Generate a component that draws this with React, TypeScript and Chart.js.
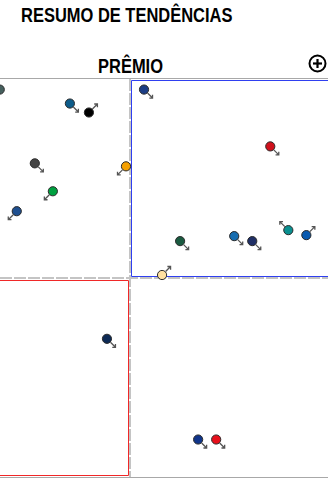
import React, { useEffect, useRef } from "react";
import { Chart, registerables } from "chart.js";

Chart.register(...registerables);

// ---- data ----
const titleText = "RESUMO DE TENDÊNCIAS";
const axisTitle = "PRÊMIO";
const xValues = [-65, -30, -20.5, -47.5, -2, -38.5, -56.5, 7, 70, 25, 52, 61, 79, 88, 16, -11.5, 34, 43];
const yValues = [94.5, 87.5, 83, 57.5, 56, 43.5, 33.5, 94.5, 66, 18.5, 21, 18.5, 24, 21.5, 1.5, -30.5, -81, -81];
const trends = ["dl", "dr", "ur", "dr", "dl", "dl", "dl", "dr", "dr", "dr", "dr", "dr", "ul", "ur", "ur", "dr", "dr", "dr"];
const pointColors = [
  "#46605e", "#0d5c8a", "#000000", "#444444", "#f5a000", "#00a040",
  "#1f4f8f", "#1b3d85", "#d0101c", "#1a5a40", "#176db0", "#1f2f66",
  "#0a9090", "#0a5bb0", "#ffe0a0", "#0d2a55", "#10358a", "#e8101c",
];

const quadrantPlugin = {
  id: "quadrants",
  beforeDatasetsDraw(chart: any) {
    const { ctx, chartArea, scales } = chart;
    const { left, right, top, bottom } = chartArea;
    const cx = Math.round(scales.x.getPixelForValue(0));
    const cy = Math.round(scales.y.getPixelForValue(0));
    const L = Math.round(left), R = Math.round(right), T = Math.round(top), B = Math.round(bottom);
    ctx.save();
    // outer gray frame (top and bottom edges)
    ctx.strokeStyle = "#a8a8a8";
    ctx.lineWidth = 1;
    ctx.beginPath();
    ctx.moveTo(L, T - 0.5);
    ctx.lineTo(R + 10, T - 0.5);
    ctx.moveTo(L, B + 0.5);
    ctx.lineTo(R + 10, B + 0.5);
    ctx.stroke();
    // dashed center lines
    ctx.strokeStyle = "#c4c4c4";
    ctx.lineWidth = 2;
    ctx.setLineDash([12, 2]);
    ctx.beginPath();
    ctx.moveTo(cx, T);
    ctx.lineTo(cx, B);
    ctx.moveTo(L, cy);
    ctx.lineTo(R + 10, cy);
    ctx.stroke();
    ctx.setLineDash([]);
    // blue quadrant box (top-right), open to the right
    ctx.lineWidth = 1;
    ctx.strokeStyle = "#2f3ff0";
    ctx.beginPath();
    ctx.moveTo(R + 10, T + 1.5);
    ctx.lineTo(cx + 1.5, T + 1.5);
    ctx.lineTo(cx + 1.5, cy - 1.5);
    ctx.lineTo(R + 10, cy - 1.5);
    ctx.stroke();
    // red quadrant box (bottom-left), open to the left
    ctx.strokeStyle = "#f02828";
    ctx.beginPath();
    ctx.moveTo(L - 10, cy + 2.5);
    ctx.lineTo(cx - 1.5, cy + 2.5);
    ctx.lineTo(cx - 1.5, B - 1.5);
    ctx.lineTo(L - 10, B - 1.5);
    ctx.stroke();
    // trend arrows
    const meta = chart.getDatasetMeta(0);
    ctx.strokeStyle = "#555555";
    ctx.lineWidth = 1.3;
    meta.data.forEach((el: any, i: number) => {
      const t = trends[i];
      const sx = t[1] === "r" ? 1 : -1;
      const sy = t[0] === "d" ? 1 : -1;
      const x0 = el.x + sx * 3.5;
      const y0 = el.y + sy * 3.5;
      const x1 = el.x + sx * 8.5;
      const y1 = el.y + sy * 8.5;
      ctx.beginPath();
      ctx.moveTo(x0, y0);
      ctx.lineTo(x1, y1);
      ctx.moveTo(x1 - sx * 3.2, y1);
      ctx.lineTo(x1, y1);
      ctx.lineTo(x1, y1 - sy * 3.2);
      ctx.stroke();
    });
    ctx.restore();
  },
};

export default function App() {
  const ref = useRef<HTMLCanvasElement | null>(null);
  useEffect(() => {
    if (!ref.current) return;
    const chart = new Chart(ref.current, {
      type: "scatter",
      data: {
        datasets: [
          {
            data: xValues.map((x, i) => ({ x, y: yValues[i] })),
            backgroundColor: pointColors,
            borderColor: "#2a2a2a",
            borderWidth: 1,
            pointRadius: 4.6,
            pointHoverRadius: 4.6,
          },
        ],
      },
      options: {
        animation: false,
        responsive: false,
        devicePixelRatio: 1,
        layout: { padding: 5 },
        plugins: { legend: { display: false }, tooltip: { enabled: false }, title: { display: false } },
        scales: {
          x: { type: "linear", min: -100, max: 100, display: false },
          y: { type: "linear", min: -100, max: 100, display: false },
        },
      },
      plugins: [quadrantPlugin],
    });
    return () => chart.destroy();
  }, []);

  const font = '"Liberation Sans", Arial, sans-serif';
  const textStyle: React.CSSProperties = {
    position: "absolute",
    fontFamily: font,
    fontWeight: "bold",
    fontSize: 19.5,
    lineHeight: 1,
    color: "#000",
    whiteSpace: "nowrap",
    transform: "scaleX(0.845)",
    transformOrigin: "left top",
  };
  return (
    <div style={{ position: "absolute", left: 0, top: 0, width: 328, height: 487, overflow: "hidden", background: "#fff" }}>
      <div style={{ ...textStyle, left: 21, top: 5.5 }}>{titleText}</div>
      <div style={{ ...textStyle, left: 98, top: 57 }}>{axisTitle}</div>
      <svg style={{ position: "absolute", left: 308, top: 54 }} width={19} height={19} viewBox="0 0 19 19">
        <circle cx={9.5} cy={9.5} r={8} fill="none" stroke="#000" strokeWidth={2} />
        <line x1={5} y1={9.5} x2={14} y2={9.5} stroke="#000" strokeWidth={2.2} />
        <line x1={9.5} y1={5} x2={9.5} y2={14} stroke="#000" strokeWidth={2.2} />
      </svg>
      <canvas ref={ref} width={412} height={410} style={{ position: "absolute", left: -76, top: 73, width: 412, height: 410 }} />
    </div>
  );
}
